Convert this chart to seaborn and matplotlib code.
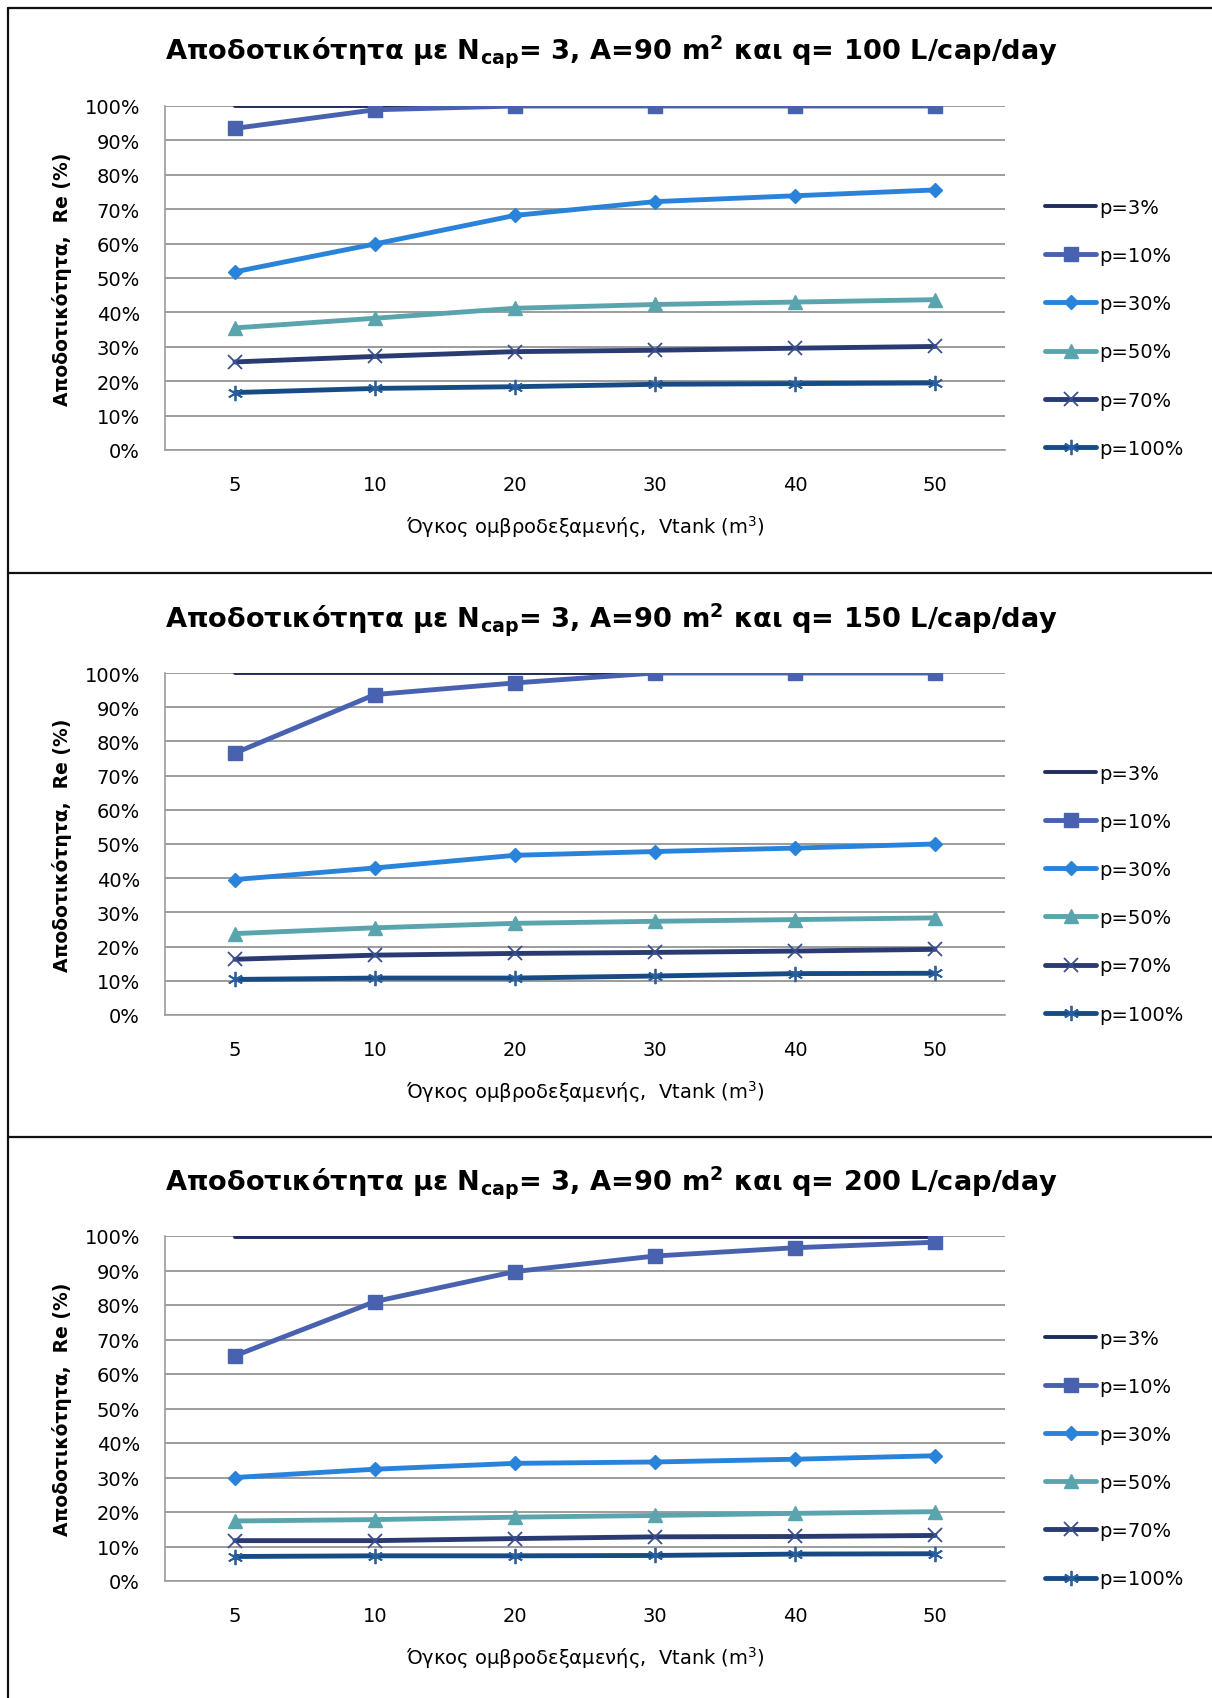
import numpy as np
import pandas as pd
import matplotlib
matplotlib.use("Agg")
import matplotlib.pyplot as plt
import seaborn as sns
from matplotlib.lines import Line2D

# ---------------- data ----------------
volumes = ["5", "10", "20", "30", "40", "50"]
series_labels = ["p=3%", "p=10%", "p=30%", "p=50%", "p=70%", "p=100%"]
q_values = [100, 150, 200]
y_ticks = [0, 10, 20, 30, 40, 50, 60, 70, 80, 90, 100]

q100_p3 = [100, 100, 100, 100, 100, 100]
q100_p10 = [93.5, 98.9, 100, 100, 100, 100]
q100_p30 = [51.8, 59.9, 68.2, 72.2, 73.9, 75.6]
q100_p50 = [35.5, 38.3, 41.2, 42.3, 43.0, 43.7]
q100_p70 = [25.6, 27.2, 28.6, 29.0, 29.6, 30.1]
q100_p100 = [16.7, 17.9, 18.4, 19.1, 19.3, 19.5]

q150_p3 = [100, 100, 100, 100, 100, 100]
q150_p10 = [76.6, 93.7, 97.1, 100, 100, 100]
q150_p30 = [39.6, 43.0, 46.7, 47.8, 48.8, 50.0]
q150_p50 = [23.8, 25.5, 26.8, 27.4, 27.9, 28.4]
q150_p70 = [16.3, 17.5, 18.0, 18.3, 18.7, 19.2]
q150_p100 = [10.4, 10.8, 10.8, 11.4, 12.1, 12.2]

q200_p3 = [99.6, 99.6, 99.6, 99.6, 99.6, 99.6]
q200_p10 = [65.3, 81.0, 89.7, 94.2, 96.6, 98.2]
q200_p30 = [30.0, 32.4, 34.1, 34.5, 35.3, 36.3]
q200_p50 = [17.4, 17.8, 18.5, 19.0, 19.6, 20.1]
q200_p70 = [11.7, 11.7, 12.3, 12.8, 12.9, 13.2]
q200_p100 = [7.1, 7.3, 7.3, 7.4, 7.8, 7.9]

panels = [
    [q100_p3, q100_p10, q100_p30, q100_p50, q100_p70, q100_p100],
    [q150_p3, q150_p10, q150_p30, q150_p50, q150_p70, q150_p100],
    [q200_p3, q200_p10, q200_p30, q200_p50, q200_p70, q200_p100],
]

# ---------------- style ----------------
colors = ["#1F2D5C", "#4862B0", "#2A83DA", "#5AA5AD", "#2A3A72", "#164B86"]
markers = [None, "s", "D", "^", "x", (6, 2, 0)]
msizes = [0, 10, 7, 10, 10, 11]
mews = [0, 1, 1, 1, 1.3, 1.3]
mecs = [None, "#4862B0", "#2A83DA", "#5AA5AD", "#3A4F8E", "#2A5F9E"]
lws = [2.8, 3.5, 3.5, 3.5, 3.5, 3.5]

sns.set_style("white")
plt.rcParams["font.family"] = ["DejaVu Sans"]
plt.rcParams["mathtext.fontset"] = "dejavusans"
for key in ["text.color", "axes.labelcolor", "xtick.color", "ytick.color"]:
    plt.rcParams[key] = "black"

W, H = 1212, 1699
fig = plt.figure(figsize=(W / 100, H / 100), dpi=100)

axes_px = [(107, 451), (674, 1016), (1237, 1582)]
title_y = [52, 620, 1183]
left_px, right_px = 165, 1005
grid_col = "#9C9C9C"

for k, (top, bot) in enumerate(axes_px):
    ax = fig.add_axes([left_px / W, 1 - bot / H, (right_px - left_px) / W, (bot - top) / H])
    x = np.arange(len(volumes))
    for i, lab in enumerate(series_labels):
        df = pd.DataFrame({"x": x, "y": panels[k][i]})
        kw = dict(color=colors[i], linewidth=lws[i], label=lab)
        if markers[i] is not None:
            kw.update(marker=markers[i], markersize=msizes[i], markeredgewidth=mews[i],
                      markeredgecolor=mecs[i], markerfacecolor=colors[i])
        sns.lineplot(data=df, x="x", y="y", ax=ax, **kw)

    ax.set_xlim(-0.5, len(volumes) - 0.5)
    ax.set_ylim(0, 100)
    ax.set_yticks(y_ticks)
    ax.set_yticklabels([f"{v}%" for v in y_ticks])
    ax.set_xticks(np.arange(-0.5, len(volumes), 1.0))
    ax.set_xticklabels([])
    ax.set_xticks(x, minor=True)
    ax.set_xticklabels(volumes, minor=True)
    ax.tick_params(axis="x", which="major", length=8, width=1.2, color=grid_col, direction="out")
    ax.tick_params(axis="x", which="minor", length=0, pad=18, labelsize=14)
    ax.tick_params(axis="y", length=8, width=1.2, color=grid_col, direction="out", pad=10, labelsize=14)
    ax.grid(axis="y", color=grid_col, linewidth=1.4)
    ax.set_axisbelow(True)
    for s in ["top", "right"]:
        ax.spines[s].set_visible(False)
    for s in ["left", "bottom"]:
        ax.spines[s].set_color(grid_col)
        ax.spines[s].set_linewidth(1.2)

    ax.set_xlabel("Όγκος ομβροδεξαμενής,  Vtank (m$^3$)", fontsize=14, labelpad=14)
    ax.set_ylabel("Αποδοτικότητα,  Re (%)", fontsize=13.5, fontweight="bold", labelpad=9)

    ax.legend(loc="center left", bbox_to_anchor=(1.048, 0.355), frameon=False,
              fontsize=14, handlelength=2.6, handletextpad=0.15, labelspacing=1.5,
              borderpad=0, borderaxespad=0)

    fig.text(612 / W, 1 - title_y[k] / H,
             r"Αποδοτικότητα με N$_{\mathbf{cap}}$= 3, A=90 m$^{\mathbf{2}}$ και q= "
             + f"{q_values[k]} L/cap/day",
             ha="center", va="center", fontsize=19.6, fontweight="bold", color="black")

# frame lines
bc = "#111111"
fig.add_artist(Line2D([8 / W, 8 / W], [0, 1 - 9 / H], color=bc, lw=1.6))
fig.add_artist(Line2D([8 / W, 1], [1 - 9 / H, 1 - 9 / H], color=bc, lw=1.6))
for yy in [574, 1138]:
    fig.add_artist(Line2D([8 / W, 1], [1 - yy / H, 1 - yy / H], color=bc, lw=1.6))

fig.savefig("out.png", dpi=100)
